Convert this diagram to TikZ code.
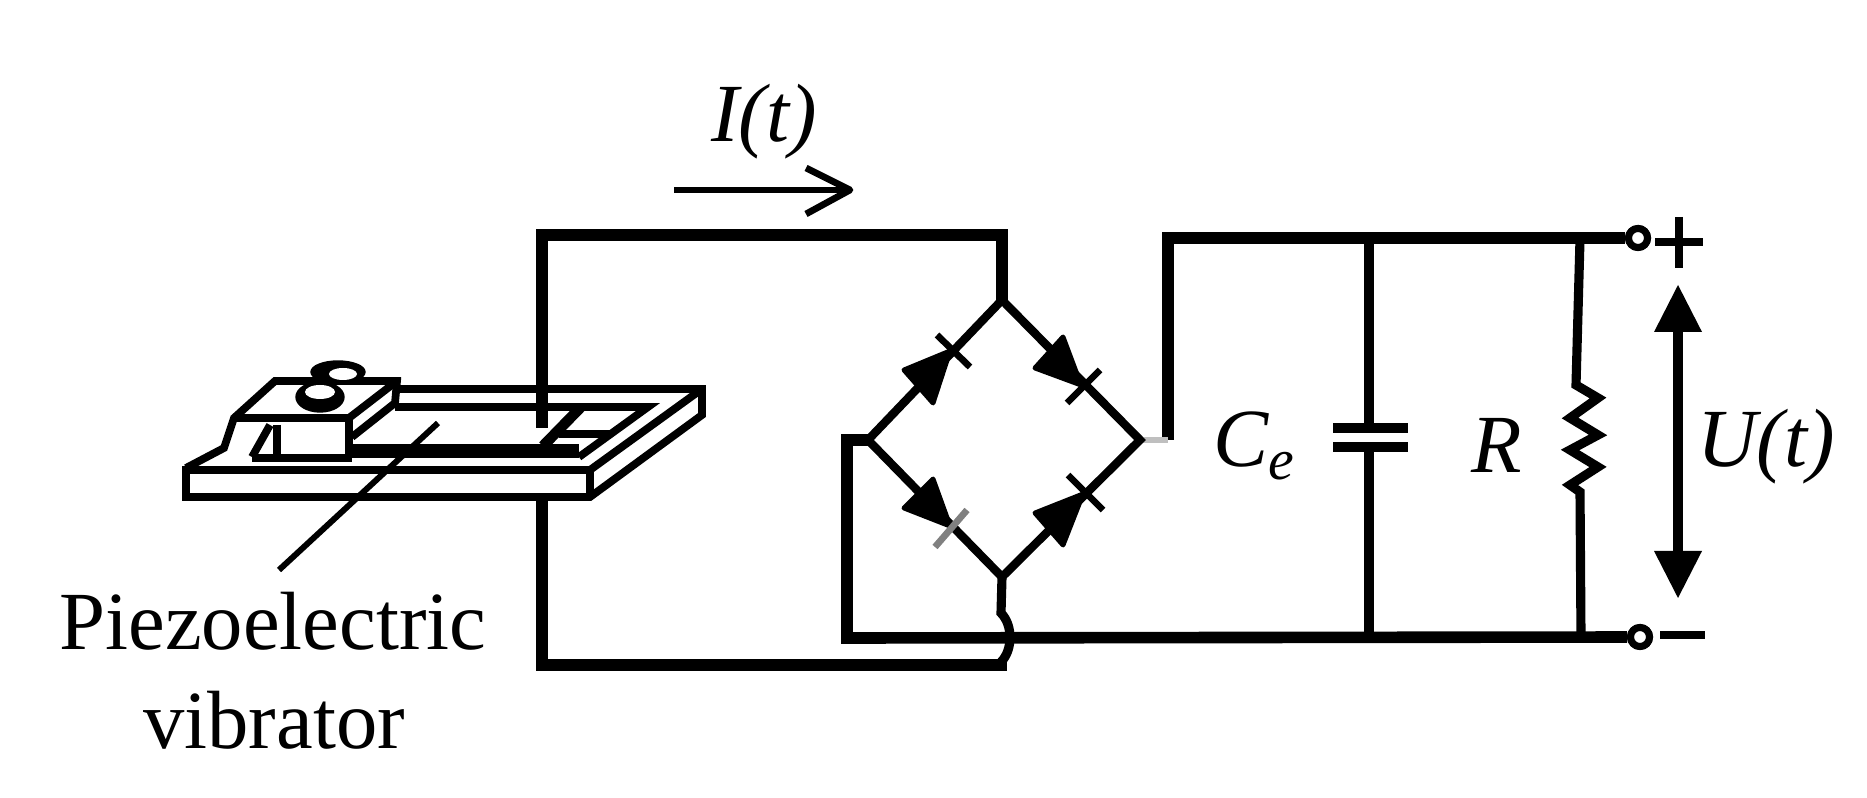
\documentclass[tikz,border=0pt]{standalone}
\usepackage{fontspec}
\setmainfont{Liberation Serif}
\usetikzlibrary{arrows,calc}
\tikzstyle{wire} = [line width=3.3pt,line join=miter]
\tikzstyle{thinwire} = [line width=2.6pt,line join=miter]
\tikzstyle{arm} = [line width=2.4pt]
\tikzstyle{bar} = [line width=1.9pt]
\tikzstyle{head} = [fill=black,draw=black,line width=1.4pt,line join=round]
\tikzstyle{body} = [line width=2.2pt,line join=miter]
\tikzstyle{thick body} = [line width=4pt]
\tikzstyle{terminal} = [circle,draw,fill=white,line width=2pt,inner sep=0pt,minimum size=19*0.2845pt]
\tikzstyle{label} = [font=\fontsize{23.5}{24}\selectfont,inner sep=0pt]

\begin{document}
\begin{tikzpicture}[x=0.01cm,y=-0.01cm]
	\useasboundingbox (0,0) rectangle (1867,798);

	% bridge corners
	\coordinate (top) at (1002,300);
	\coordinate (left) at (868,440);
	\coordinate (right) at (1140,440);
	\coordinate (bottom) at (1002,577);
	\coordinate (bump1) at (1001,613);
	\coordinate (bump2) at (1001,662);

	% wire ends
	\coordinate (in1) at (542,428);
	\coordinate (in2) at (542,497);
	\coordinate (out1) at (1168,440);
	\coordinate (rail1) at (1369,239);
	\coordinate (rail2) at (1369,638);
	\coordinate (load1) at (1580,239);
	\coordinate (load2) at (1581,638);
	\coordinate (plate1) at (1369,428);
	\coordinate (plate2) at (1369,447);
	\coordinate (res1) at (1576,385);
	\coordinate (res2) at (1580,492);
	\coordinate (back) at (847,440);
	\coordinate (cur1) at (674,190);
	\coordinate (cur2) at (850,190);
	\coordinate (volt1) at (1678,285);
	\coordinate (volt2) at (1678,598);
	\coordinate (pointer1) at (438,423);
	\coordinate (pointer2) at (279,570);

	\node[terminal] (plus) at (1638,238) {};
	\node[terminal] (minus) at (1640,637) {};

	% vibrator
	\draw[body] (186,468) -- (224,448) -- (234,418) -- (275,381) -- (397,381) -- (395,403) -- (352,437);
	\draw[body] (234,418) -- (349,418) -- (397,381);
	\draw[body] (349,418) -- (349,458);
	\draw[body] (395,389) -- (702,389) -- (702,415) -- (590,497) -- (186,497) -- (186,470) -- (590,470) -- (702,389);
	\draw[body] (590,470) -- (590,497);
	\draw[body] (395,407) -- (648,407) -- (579,457);
	\draw[line width=3pt] (581,407) -- (543,446);
	\draw[body] (559,434) -- (612,434);
	\draw[body] (252,457) -- (270,425);
	\draw[body] (277,425) -- (277,457);
	\draw[body] (252,458) -- (352,458);
	\draw[thick body] (352,451) -- (579,451);
	\draw[fill=black] (338,372) ellipse (27 and 11);
	\draw[fill=white,draw=none] (343,374) ellipse (14 and 6);
	\draw[fill=black] (320,397) ellipse (24 and 15);
	\draw[fill=white,draw=none] (320,392) ellipse (15 and 7);

	% circuit
	\draw[wire] (top) -- (top |- 0,235) -- (in1 |- 0,235) -- (in1);
	\draw[wire] (in2) -- (in2 |- 0,665) -- (bump2 |- 0,665) -- (bump2);
	\draw[thinwire] (bottom) -- (bump1) .. controls (1013,625) and (1013,650) .. (bump2);
	\draw[wire] (left) -- (back) -- (back |- rail2) -- (minus);
	\draw[wire] (out1) -- (out1 |- plus) -- (plus);
	\draw[draw=gray!50,line width=1.5pt] (right) -- (out1);
	\draw[thinwire] (rail1) -- (plate1);
	\draw[thinwire] (plate2) -- (rail2);
	\draw[thinwire] (load1) -- (res1) -- (1598,398) -- (1570,418) -- (1598,435) -- (1570,450) -- (1598,467) -- (1570,485) -- (res2) -- (load2);
	\draw[thinwire] (1333,428) -- (1408,428);
	\draw[thinwire] (1333,447) -- (1408,447);

	% bridge
	\draw[arm] (left) -- (top) -- (right) -- (bottom) -- cycle;
	\draw[head] (904,370) -- (933,403) -- (950,351) -- cycle;
	\draw[head] (1063,337) -- (1035,368) -- (1081,385) -- cycle;
	\draw[head] (933,479) -- (904,508) -- (950,526) -- cycle;
	\draw[head] (1035,513) -- (1063,545) -- (1083,494) -- cycle;
	\draw[bar] (937,335) -- (970,367);
	\draw[bar] (1100,370) -- (1067,403);
	\draw[bar,gray] (967,510) -- (935,547);
	\draw[bar] (1068,475) -- (1103,510);

	\node[terminal] at (plus) {};
	\node[terminal] at (minus) {};

	% signs and arrows
	\draw[bar,line width=2.4pt] (1655,242) -- (1703,242);
	\draw[bar,line width=2.4pt] (1679,217) -- (1679,268);
	\draw[bar,line width=2.4pt] (minus) ++ (20,-2) -- (1705,635);
	\draw[line width=2.8pt] ($(volt1)+(0,40)$) -- ($(volt2)+(0,-40)$);
	\draw[fill=black,draw=none] (volt1) -- (1702,332) -- (1654,332) -- cycle;
	\draw[fill=black,draw=none] (volt2) -- (1702,551) -- (1654,551) -- cycle;
	\draw[line width=1.9pt] (cur1) -- (cur2);
	\draw[line width=1.9pt,line join=round] (806,168) -- (cur2) -- (806,214);
	\draw[line width=1.7pt] (pointer1) -- (pointer2);

	\node[label] (current) at (764,122) {\textit{I(t)}};
	\node[label] (cap) at (1255,446) {\textit{C\textsubscript{e}}};
	\node[label] (res) at (1497,445) {\textit{R}};
	\node[label] (volt) at (1766,447) {\textit{U(t)}};
	\node[label] (vib1) at (273,621) {Piezoelectric};
	\node[label] (vib2) at (274,720) {vibrator};
\end{tikzpicture}
\end{document}
